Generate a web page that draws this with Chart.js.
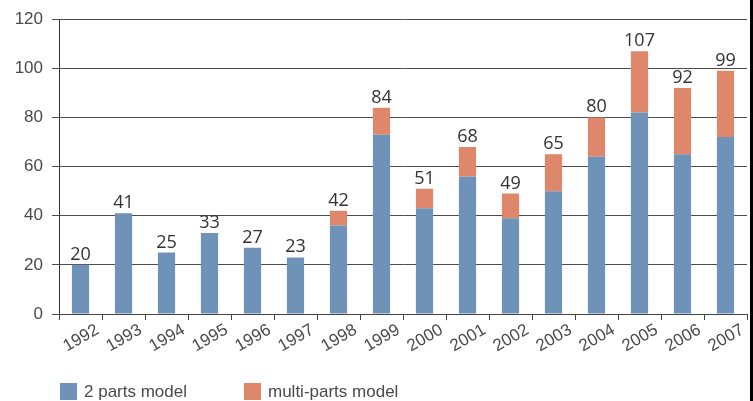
<!DOCTYPE html>
<html>
<head>
<meta charset="utf-8">
<script src="https://cdn.jsdelivr.net/npm/chart.js@4/dist/chart.umd.min.js"></script>
<style>
  html, body { margin: 0; padding: 0; background: #fff; }
  #wrap { position: relative; width: 753px; height: 401px; }
</style>
</head>
<body>
<div id="wrap"><canvas id="c" width="753" height="401"></canvas></div>
<script>
const years = ['1992','1993','1994','1995','1996','1997','1998','1999','2000','2001','2002','2003','2004','2005','2006','2007'];
const twoParts   = [20, 41, 25, 33, 27, 23, 36, 73, 43, 56, 39, 50, 64, 82, 65, 72];
const multiParts = [0, 0, 0, 0, 0, 0, 6, 11, 8, 12, 10, 15, 16, 25, 27, 27];
const totals     = [20, 41, 25, 33, 27, 23, 42, 84, 51, 68, 49, 65, 80, 107, 92, 99];
const seriesNames = ['2 parts model', 'multi-parts model'];
const yTicks = [0, 20, 40, 60, 80, 100, 120];

const BLUE = '#6f93b8';
const ORANGE = '#df876b';
const AXIS_FONT = 'Liberation Sans';

const totalsPlugin = {
  id: 'totals',
  afterDatasetsDraw(chart) {
    const ctx = chart.ctx;
    const xs = chart.scales.x, ys = chart.scales.y;
    ctx.save();
    ctx.font = '18px "Open Sans"';
    ctx.fillStyle = '#333';
    ctx.textAlign = 'center';
    ctx.textBaseline = 'alphabetic';
    totals.forEach((t, i) => {
      const x = xs.getPixelForValue(i);
      const y = ys.getPixelForValue(t);
      ctx.fillText(String(t), x, y - 5);
    });
    ctx.restore();
  }
};

const legendPlugin = {
  id: 'customLegend',
  afterDraw(chart) {
    const ctx = chart.ctx;
    const items = [{x: 60}, {x: 244}];
    ctx.save();
    ctx.font = '17px "' + AXIS_FONT + '"';
    ctx.textBaseline = 'middle';
    ctx.textAlign = 'left';
    chart.data.datasets.forEach((ds, i) => {
      const bx = items[i].x;
      ctx.fillStyle = ds.backgroundColor;
      ctx.fillRect(bx, 383, 17, 17);
      ctx.fillStyle = '#4a4a4a';
      ctx.fillText(ds.label, bx + 24, 392);
    });
    // right edge frame line
    ctx.fillStyle = '#000';
    ctx.fillRect(750, 0, 3, 401);
    ctx.restore();
  }
};

new Chart(document.getElementById('c'), {
  type: 'bar',
  data: {
    labels: years,
    datasets: [
      { label: seriesNames[0], data: twoParts, backgroundColor: BLUE, stack: 's' },
      { label: seriesNames[1], data: multiParts, backgroundColor: ORANGE, stack: 's' }
    ]
  },
  options: {
    responsive: false,
    animation: false,
    devicePixelRatio: 1,
    layout: { padding: { top: 19, right: 6, bottom: 47, left: 0 } },
    plugins: { legend: { display: false }, tooltip: { enabled: false } },
    datasets: { bar: { categoryPercentage: 1.0, barPercentage: 0.4 } },
    scales: {
      x: {
        stacked: true,
        offset: true,
        grid: { offset: true, drawOnChartArea: false, drawTicks: true, tickLength: 6, color: '#444', lineWidth: 1 },
        border: { display: true, color: '#444', width: 1 },
        ticks: {
          font: { family: AXIS_FONT, size: 17 },
          color: '#4a4a4a',
          minRotation: 30, maxRotation: 30,
          labelOffset: 17,
          padding: 0,
          autoSkip: false
        },
        afterFit(scale) { scale.height = 40; }
      },
      y: {
        stacked: true,
        min: 0, max: 120,
        afterBuildTicks(scale) { scale.ticks = yTicks.map(v => ({ value: v })); },
        grid: { color: '#4d4d4d', lineWidth: 1, drawTicks: true, tickLength: 7 },
        border: { display: true, color: '#333', width: 1 },
        ticks: {
          font: { family: AXIS_FONT, size: 17 },
          color: '#4a4a4a',
          padding: 9
        },
        afterFit(scale) { scale.width = 59; }
      }
    }
  },
  plugins: [totalsPlugin, legendPlugin]
});
</script>
</body>
</html>
